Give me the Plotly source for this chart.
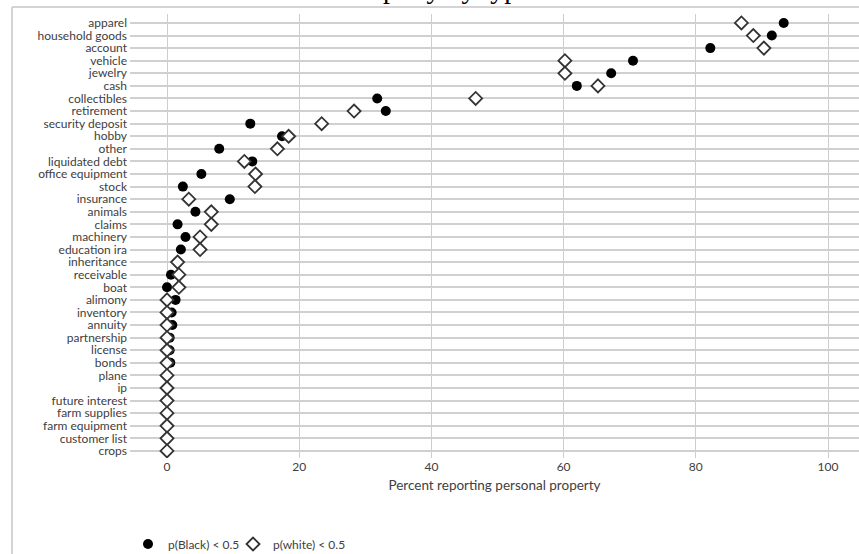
import plotly.graph_objects as go

categories = ["apparel", "household goods", "account", "vehicle", "jewelry", "cash",
              "collectibles", "retirement", "security deposit", "hobby", "other",
              "liquidated debt", "office equipment", "stock", "insurance", "animals",
              "claims", "machinery", "education ira", "inheritance", "receivable", "boat",
              "alimony", "inventory", "annuity", "partnership", "license", "bonds", "plane",
              "ip", "future interest", "farm supplies", "farm equipment", "customer list",
              "crops"]

black_pct = [93.3, 91.5, 82.2, 70.5, 67.2, 62.0, 31.8, 33.1, 12.6, 17.4, 7.9, 12.9, 5.2,
             2.4, 9.5, 4.3, 1.6, 2.8, 2.1, 1.6, 0.6, 0.0, 1.3, 0.7, 0.8, 0.4, 0.4, 0.5,
             0.0, 0.0, 0.0, 0.0, 0.0, 0.0, 0.0]
white_pct = [86.9, 88.7, 90.3, 60.2, 60.2, 65.2, 46.7, 28.3, 23.4, 18.4, 16.7, 11.7, 13.4,
             13.3, 3.3, 6.7, 6.7, 5.0, 5.0, 1.6, 1.8, 1.8, 0.0, 0.0, 0.0, 0.0, 0.0, 0.0,
             0.0, 0.0, 0.0, 0.0, 0.0, 0.0, 0.0]

x_ticks = [0, 20, 40, 60, 80, 100]
series_names = ["p(Black) < 0.5", "p(white) < 0.5"]
title_text = "Property by type"
x_title = "Percent reporting personal property"

W, H = 859, 554
ML, MR, MT, MB = 130, 0, 14, 96
PW, PH = W - ML - MR, H - MT - MB

def px_x(p):
    return (p - ML) / PW

def px_y(p):
    return (H - MB - p) / PH

FONT = "Lato, 'Open Sans', sans-serif"

fig = go.Figure()
fig.add_trace(go.Scatter(
    x=black_pct, y=categories, mode="markers", name=series_names[0], legend="legend",
    marker=dict(symbol="circle", size=10, color="black", line=dict(width=0)),
))
fig.add_trace(go.Scatter(
    x=white_pct, y=categories, mode="markers", name=series_names[1], legend="legend2",
    marker=dict(symbol="diamond", size=10, color="white",
                line=dict(width=1.8, color="#333333")),
))

leg_common = dict(orientation="h", xref="container", yref="container",
                  y=1 - 544 / H, xanchor="left", yanchor="middle",
                  font=dict(size=12, color="#404040"), itemwidth=30,
                  bgcolor="rgba(0,0,0,0)")

fig.update_layout(
    width=W, height=H,
    margin=dict(l=ML, r=MR, t=MT, b=MB, autoexpand=False),
    paper_bgcolor="white", plot_bgcolor="white",
    font=dict(family=FONT, color="#404040", size=12),
    showlegend=True,
    legend=dict(x=128 / W, **leg_common),
    legend2=dict(x=233 / W, **leg_common),
    xaxis=dict(range=[(ML - 167) / 6.61, (W - MR - 167) / 6.61],
               tickvals=x_ticks, ticktext=[str(v) for v in x_ticks],
               showgrid=True, gridcolor="#cdcdcd", gridwidth=1,
               zeroline=False, showline=False, ticks="", automargin=False,
               tickfont=dict(size=12, color="#404040"),
               title=dict(text=x_title, font=dict(size=13.5, color="#404040"), standoff=7)),
    yaxis=dict(type="category", categoryorder="array", categoryarray=categories,
               tickmode="array", tickvals=categories, ticktext=categories,
               range=[34.56, -0.71], showgrid=True, gridcolor="#d0d0d0", gridwidth=2,
               zeroline=False, showline=False, ticks="", automargin=False,
               tickfont=dict(size=12, color="#404040"), ticklabelstandoff=2),
    shapes=[
        dict(type="line", xref="paper", yref="paper", x0=px_x(12), x1=px_x(12),
             y0=px_y(7), y1=px_y(H + 5), line=dict(color="#d4d4d4", width=2)),
        dict(type="line", xref="paper", yref="paper", x0=px_x(12), x1=px_x(W + 5),
             y0=px_y(7), y1=px_y(7), line=dict(color="#d4d4d4", width=2)),
    ],
    annotations=[
        dict(text=title_text, xref="paper", yref="paper", x=px_x(437), y=1,
             xanchor="center", yanchor="bottom", yshift=MT - 6, showarrow=False,
             font=dict(family="'Liberation Serif', 'DejaVu Serif', serif", size=28,
                       color="black")),
    ],
)

fig.write_html("out.html", config={"displayModeBar": False},
               post_script="document.body.style.margin='0';document.body.style.padding='0';")
